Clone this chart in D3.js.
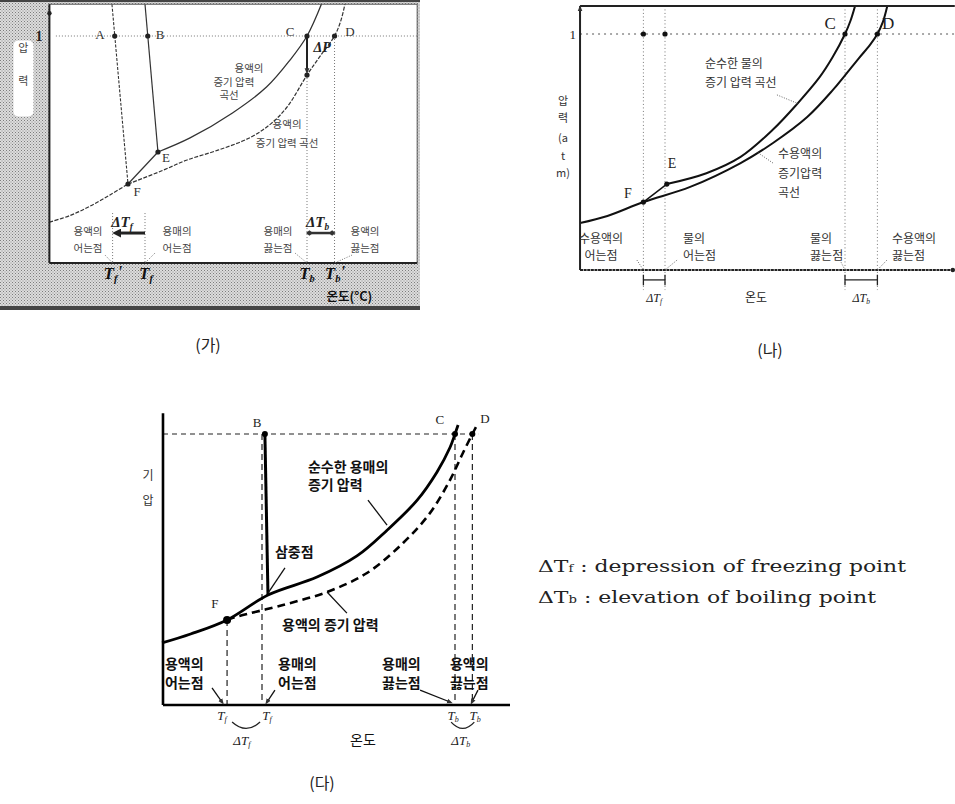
<!DOCTYPE html>
<html>
<head>
<meta charset="utf-8">
<script src="https://cdn.jsdelivr.net/npm/d3@7"></script>
<style>
  body { margin: 0; background: #fff; }
  svg { display: block; }
</style>
</head>
<body>
<div id="app"></div>
<script>
// schematic phase diagrams: temperature (°C) vs pressure (atm)

// ---- (가)
const aTempExtent = [-59, 168];
const aPresExtent = [0, 1.14];
const aSubCurve = [[-59, 0.18], [-46, 0.21], [-34, 0.25], [-21.6, 0.30], [-10.5, 0.348]];
const aFE = [[-10.5, 0.348], [8, 0.489]];
const aSolvent = [[8, 0.489], [27.8, 0.551], [54, 0.661], [75, 0.775], [89.5, 0.894], [100, 1.0], [110, 1.16]];
const aSolution = [[-10.5, 0.348], [10, 0.405], [26, 0.454], [45, 0.497], [65, 0.553], [78, 0.615], [88, 0.69], [100, 0.828], [108, 0.91], [117, 1.0], [121, 1.07], [124, 1.16]];
const aLineA = [[-20.4, 1.14], [-10.5, 0.348]];
const aLineB = [[0, 1.14], [8, 0.489]];
const aDots = [[-18.7, 1], [1.7, 1], [100, 1], [117, 1], [8, 0.489], [-10.5, 0.348], [100, 0.828]];
const aPointNames = [['A', -27.8, 1.009], ['B', 9.3, 1.009], ['C', 89.5, 1.018], ['D', 126.5, 1.018], ['E', 13, 0.463], ['F', -4.9, 0.317]];
const aGuides = [[-20, 0.22, 0], [0, 0.22, 0], [100, 0.828, 0], [117, 1, 0]];
const aTemps = [['f', "'", -19.8], ['f', '', 0.6], ['b', '', 100], ['b', "'", 117.3]];
const aBottomLabels = [[['용액의', '어는점'], -35.2], [['용매의', '어는점'], 19.8], [['용매의', '끓는점'], 82.1], [['용액의', '끓는점'], 135.8]];
const aLeaders = [[[-24.7, 0.035], [-20, 0]], [[6.2, 0.044], [0, 0]], [[92.6, 0.044], [100, 0]], [[127.8, 0.035], [117, 0]]];
const aCurveLabels = [['용액의', 64.2, 0.841], ['증기 압력', 54.9, 0.78], ['곡선', 51.9, 0.722], ['용액의', 87.7, 0.595], ['증기 압력 곡선', 87.7, 0.511]];

// ---- (나)
const bTempExtent = [-47.2, 161];
const bPresExtent = [0, 1.119];
const bSolution = [[-47.2, 0.199], [-32, 0.229], [-12, 0.288], [14, 0.352], [42, 0.453], [60, 0.538], [79, 0.648], [93.3, 0.763], [100, 0.825], [108, 0.9], [114, 0.955], [118, 1.0], [121, 1.05], [123.5, 1.119]];
const bFE = [[-12, 0.288], [1, 0.364]];
const bWater = [[1, 0.364], [23, 0.41], [42, 0.479], [60, 0.595], [73, 0.7], [86, 0.818], [93, 0.9], [100, 1.0], [103, 1.055], [105.6, 1.119]];
const bDots = [[-12, 1], [0, 1], [100, 1], [118, 1], [1, 0.364], [-12, 0.288]];
const bPointNames = [['C', 91.7, 1.047], ['D', 123.9, 1.047], ['E', 3.9, 0.453], ['F', -20.6, 0.326]];
const bGuideTemps = [-12, 0, 100, 118];
const bAxisTitle = ['압', '력', '(a', 't', 'm)'];
const bAxisTitlePres = [0.699, 0.627, 0.542, 0.466, 0.394];
const bCurveLabels = [['순수한 물의', 22.2, 0.856], ['증기 압력 곡선', 22.2, 0.775], ['수용액의', 62.8, 0.475], ['증기압력', 62.8, 0.39], ['곡선', 62.8, 0.309]];
const bCurveLeaders = [[[62.2, 0.742], [73.9, 0.705]], [[60, 0.453], [51.1, 0.5]]];
const bBottomLabels = [[['수용액의', '어는점'], -35.5], [['물의', '어는점'], 10], [['물의', '끓는점'], 80.6], [['수용액의', '끓는점'], 126.1]];
const bLeaders = [[[-15.6, 0.042], [-12, 0]], [[6.7, 0.042], [0, 0]], [[97.2, 0.042], [100, 0]], [[123.3, 0.042], [118, 0]]];
const bDeltas = [['f', -12, 0], ['b', 100, 118]];

// ---- (다)
const cTempExtent = [-51.3, 128.5];
const cPresExtent = [0, 1.077];
const cSolvent = [[-51.8, 0.229], [-37, 0.262], [-18.1, 0.314], [3.1, 0.406], [28.5, 0.472], [49.2, 0.55], [64.8, 0.645], [80.3, 0.755], [90.7, 0.86], [97.4, 0.95], [100, 1.0], [101.6, 1.033]];
const cSolution = [[-18.1, 0.314], [-13, 0.326], [10.9, 0.369], [33.7, 0.417], [54.4, 0.487], [73.1, 0.598], [87, 0.708], [97.4, 0.83], [104.1, 0.93], [109, 1.0], [112, 1.041]];
const cFusion = [[1.5, 1], [3.1, 0.406]];
const cDots = [[1.5, 1], [100, 1], [109, 1], [-18.1, 0.314]];
const cPointNames = [['B', -2.6, 1.044], ['C', 92.2, 1.052], ['D', 115.5, 1.059], ['F', -24.4, 0.376]];
const cGuides = [[-18.1, 0.314], [0, 1], [100, 1], [109, 1]];
const cCurveLabels = [['순수한 용매의', 23.8, 0.86], ['증기 압력', 23.8, 0.793], ['삼중점', 6.7, 0.546], ['용액의 증기 압력', 10.4, 0.277]];
const cCurveLeaders = [[[54.9, 0.756], [64.8, 0.664]], [[11.9, 0.506], [3.1, 0.413]], [[44, 0.339], [33.7, 0.417]]];
const cBottomLabels = [[['용액의', '어는점'], -50.3], [['용매의', '어는점'], 8.3], [['용매의', '끓는점'], 62.2], [['용액의', '끓는점'], 97.4]];
const cLeaders = [[[-25.9, 0.063], [-20.7, 0.011]], [[6.7, 0.055], [2.6, 0.011]], [[81.9, 0.055], [97.4, 0.011]], [[111.9, 0.055], [108.8, 0.011]]];
const cTemps = [['f', -20.7], ['f', 2.6], ['b', 99], ['b', 110.4]];
const cArcs = [['f', -15.5, -1, -10.4], ['b', 98, 110, 103]];

const legendLines = [['f', 'depression of freezing point'], ['b', 'elevation of boiling point']];
const captions = ['(가)', '(나)', '(다)'];

const KR = "'Noto Sans CJK KR', 'Noto Sans', sans-serif";
const SERIF = "'Liberation Serif', 'DejaVu Serif', serif";

const svg = d3.select('#app').append('svg').attr('width', 955).attr('height', 804);
const defs = svg.append('defs');

const pat = defs.append('pattern').attr('id', 'halftone').attr('width', 3).attr('height', 3).attr('patternUnits', 'userSpaceOnUse');
pat.append('rect').attr('width', 3).attr('height', 3).attr('fill', '#dcdcdc');
pat.append('rect').attr('width', 1).attr('height', 1).attr('fill', '#7c7c7c');
pat.append('rect').attr('x', 1.5).attr('y', 1.5).attr('width', 1).attr('height', 1).attr('fill', '#8e8e8e');

function marker(id, path, w, color) {
  defs.append('marker').attr('id', id).attr('viewBox', '0 0 10 10').attr('refX', 5).attr('refY', 5)
    .attr('markerWidth', w).attr('markerHeight', w).attr('orient', 'auto-start-reverse')
    .attr('markerUnits', 'userSpaceOnUse')
    .append('path').attr('d', path).attr('fill', color);
}
marker('arrow', 'M0,0 L10,5 L0,10 Z', 9, '#222');
marker('arrowSmall', 'M0,1 L10,5 L0,9 Z', 6, '#333');
marker('diamond', 'M0,5 L5,1 L10,5 L5,9 Z', 7, '#333');

const lineGen = (x, y, curve) => d3.line().x(d => x(d[0])).y(d => y(d[1])).curve(curve || d3.curveLinear);
const smooth = d3.curveCatmullRom.alpha(0.5);

function textLines(g, lines, x, y, lh, opts) {
  const t = g.append('text').attr('x', x).attr('y', y)
    .attr('font-family', opts.family || KR).attr('font-size', opts.size)
    .attr('font-weight', opts.weight || 'normal').attr('fill', opts.fill || '#222')
    .attr('text-anchor', opts.anchor || 'middle');
  lines.forEach((s, i) => t.append('tspan').attr('x', x).attr('dy', i === 0 ? 0 : lh).text(s));
  return t;
}

function tLabel(g, x, y, s, prime, opts) {
  const t = g.append('text').attr('x', x).attr('y', y)
    .attr('font-family', SERIF).attr('font-size', opts.size).attr('font-style', 'italic')
    .attr('font-weight', opts.weight || 'normal').attr('fill', opts.fill || '#222')
    .attr('text-anchor', 'middle');
  if (opts.delta) t.append('tspan').text('Δ');
  t.append('tspan').text('T');
  t.append('tspan').attr('font-size', '0.62em').attr('dy', '0.28em').text(s);
  if (prime) t.append('tspan').attr('dy', '-0.28em').text(prime);
  return t;
}

// ================= (가) =================
{
  const x = d3.scaleLinear().domain([0, 100]).range([145, 307]);
  const y = d3.scaleLinear().domain([0, 1]).range([263, 36]);
  const [t0, t1] = aTempExtent, [p0, p1] = aPresExtent;
  const g = svg.append('g');
  const line = lineGen(x, y);
  const curve = lineGen(x, y, smooth);

  g.append('rect').attr('width', 420).attr('height', 310).attr('fill', 'url(#halftone)');
  g.append('rect').attr('width', 420).attr('height', 2).attr('fill', '#444');
  g.append('rect').attr('y', 306).attr('width', 420).attr('height', 4).attr('fill', '#444');
  g.append('rect').attr('x', x(t0)).attr('y', y(p1)).attr('width', x(t1) - x(t0)).attr('height', y(p0) - y(p1))
    .attr('fill', '#fff').attr('stroke', '#555').attr('stroke-width', 1);
  // axis title box
  g.append('rect').attr('x', x(t0) - 36).attr('y', y(0.98)).attr('width', 20).attr('height', 76).attr('rx', 5).attr('fill', '#fff');
  textLines(g, ['압'], x(t0) - 26, y(0.93), 0, { size: 11, fill: '#444' });
  textLines(g, ['력'], x(t0) - 26, y(0.785), 0, { size: 11, fill: '#444' });

  defs.append('clipPath').attr('id', 'clipA').append('rect')
    .attr('x', x(t0)).attr('y', y(p1)).attr('width', x(t1) - x(t0)).attr('height', y(p0) - y(p1));
  const plot = g.append('g').attr('clip-path', 'url(#clipA)');

  // 1 atm and guides
  plot.append('path').datum([[t0 + 4, 1], [t1, 1]]).attr('d', line)
    .attr('stroke', '#777').attr('stroke-width', 1).attr('stroke-dasharray', '1,2').attr('fill', 'none');
  aGuides.forEach(([t, a, b]) => plot.append('path').datum([[t, a], [t, b]]).attr('d', line)
    .attr('stroke', '#777').attr('stroke-width', 1).attr('stroke-dasharray', '1,2').attr('fill', 'none'));

  plot.append('path').datum(aSubCurve).attr('d', curve).attr('fill', 'none').attr('stroke', '#333').attr('stroke-width', 1.2).attr('stroke-dasharray', '4,1.5');
  plot.append('path').datum(aFE).attr('d', line).attr('fill', 'none').attr('stroke', '#333').attr('stroke-width', 1.2);
  plot.append('path').datum(aSolvent).attr('d', curve).attr('fill', 'none').attr('stroke', '#333').attr('stroke-width', 1.3);
  plot.append('path').datum(aSolution).attr('d', curve).attr('fill', 'none').attr('stroke', '#333').attr('stroke-width', 1.2).attr('stroke-dasharray', '4,1.5');
  plot.append('path').datum(aLineA).attr('d', line).attr('fill', 'none').attr('stroke', '#333').attr('stroke-width', 1.1).attr('stroke-dasharray', '3,1.5');
  plot.append('path').datum(aLineB).attr('d', line).attr('fill', 'none').attr('stroke', '#333').attr('stroke-width', 1.2);

  // axes
  g.append('path').datum([[t0, p0], [t0, p1]]).attr('d', line).attr('stroke', '#222').attr('stroke-width', 2);
  g.append('path').datum([[t0, p0], [t1, p0]]).attr('d', line).attr('stroke', '#222').attr('stroke-width', 2);
  g.append('circle').attr('cx', x(t0)).attr('cy', y(1.1)).attr('r', 2.2).attr('fill', '#222');
  const ax = g.append('g').attr('transform', `translate(${x(t0)},0)`)
    .call(d3.axisLeft(y).tickValues([1]).tickSize(0).tickPadding(7).tickFormat(d3.format('d')));
  ax.select('.domain').remove();
  ax.selectAll('text').attr('font-family', SERIF).attr('font-size', 14).attr('font-weight', 'bold').attr('fill', '#222');

  // ΔP arrow, ΔTf / ΔTb arrows
  g.append('path').datum([[100, 1], [100, 0.845]]).attr('d', line).attr('stroke', '#222').attr('stroke-width', 2).attr('marker-end', 'url(#arrowSmall)');
  g.append('path').datum([[0, 0.132], [-17.5, 0.132]]).attr('d', line).attr('stroke', '#222').attr('stroke-width', 3).attr('marker-end', 'url(#arrow)');
  g.append('path').datum([[101.5, 0.132], [115.5, 0.132]]).attr('d', line).attr('stroke', '#333').attr('stroke-width', 2.5)
    .attr('marker-end', 'url(#diamond)').attr('marker-start', 'url(#diamond)');

  g.selectAll('.dotA').data(aDots).enter().append('circle')
    .attr('cx', d => x(d[0])).attr('cy', d => y(d[1])).attr('r', 2.6).attr('fill', '#222');

  aPointNames.forEach(([n, t, p]) => g.append('text').attr('x', x(t)).attr('y', y(p)).attr('dy', '0.35em')
    .attr('text-anchor', 'middle').attr('font-family', SERIF).attr('font-size', 13).attr('fill', '#333').text(n));
  g.append('text').attr('x', x(109.3)).attr('y', y(0.952)).attr('dy', '0.35em').attr('text-anchor', 'middle')
    .attr('font-family', SERIF).attr('font-size', 14).attr('font-weight', 'bold').attr('font-style', 'italic').attr('fill', '#222').text('ΔP');

  aCurveLabels.forEach(([s, t, p]) => textLines(g, [s], x(t), y(p), 0, { size: 10.5, fill: '#444' }).attr('dy', '0.35em'));
  aBottomLabels.forEach(([ls, t]) => textLines(g, ls, x(t), y(0.145), 17, { size: 10.5, fill: '#444' }).attr('dominant-baseline', 'central'));
  aLeaders.forEach(d => g.append('path').datum(d).attr('d', line).attr('stroke', '#777').attr('stroke-width', 1).attr('stroke-dasharray', '1,1.5').attr('fill', 'none'));

  tLabel(g, x(-14.2), y(0.181) + 5, 'f', '', { size: 15, weight: 'bold', delta: true });
  tLabel(g, x(106.5), y(0.181) + 5, 'b', '', { size: 15, weight: 'bold', delta: true });
  aTemps.forEach(([s, pr, t]) => tLabel(g, x(t), y(-0.07), s, pr, { size: 17, weight: 'bold', fill: '#111' }));
  g.append('text').attr('x', x(112)).attr('y', y(-0.166)).attr('font-family', KR).attr('font-size', 12.5)
    .attr('font-weight', 'bold').attr('fill', '#111').text('온도(°C)');
}

// ================= (나) =================
{
  const x = d3.scaleLinear().domain([0, 100]).range([665, 845]);
  const y = d3.scaleLinear().domain([0, 1]).range([270, 34]);
  const [t0, t1] = bTempExtent, [p0, p1] = bPresExtent;
  const g = svg.append('g');
  const line = lineGen(x, y);
  const curve = lineGen(x, y, smooth);

  defs.append('clipPath').attr('id', 'clipB').append('rect')
    .attr('x', x(t0)).attr('y', y(p1)).attr('width', x(t1) - x(t0)).attr('height', y(p0) - y(p1));

  g.append('path').datum([[t0, 1], [t1, 1]]).attr('d', line).attr('stroke', '#555').attr('stroke-width', 1).attr('stroke-dasharray', '2,4').attr('fill', 'none');
  bGuideTemps.forEach(t => g.append('path').datum([[t, p1], [t, -0.085]]).attr('d', line)
    .attr('stroke', '#777').attr('stroke-width', 1).attr('stroke-dasharray', '1,2.5').attr('fill', 'none'));

  const plot = g.append('g').attr('clip-path', 'url(#clipB)');
  plot.append('path').datum(bSolution).attr('d', curve).attr('fill', 'none').attr('stroke', '#111').attr('stroke-width', 2);
  plot.append('path').datum(bWater).attr('d', curve).attr('fill', 'none').attr('stroke', '#111').attr('stroke-width', 2);
  plot.append('path').datum(bFE).attr('d', line).attr('fill', 'none').attr('stroke', '#111').attr('stroke-width', 1.5);

  g.append('path').datum([[t0, p0], [t0, p1]]).attr('d', line).attr('stroke', '#222').attr('stroke-width', 2);
  g.append('path').datum([[t0, p1], [t1, p1]]).attr('d', line).attr('stroke', '#222').attr('stroke-width', 2);
  g.append('path').datum([[t0, p0], [t1, p0]]).attr('d', line).attr('stroke', '#222').attr('stroke-width', 2).attr('stroke-dasharray', '3,0.6');
  g.append('path').datum([[t0, p1 - 0.05], [t0, p1 - 0.01]]).attr('d', line).attr('stroke', '#222').attr('marker-end', 'url(#arrowSmall)');
  g.append('circle').attr('cx', x(t1) - 2).attr('cy', y(p0)).attr('r', 2.2).attr('fill', '#222');

  const ax = g.append('g').attr('transform', `translate(${x(t0)},0)`)
    .call(d3.axisLeft(y).tickValues([1]).tickSize(0).tickPadding(4).tickFormat(d3.format('d')));
  ax.select('.domain').remove();
  ax.selectAll('text').attr('font-family', SERIF).attr('font-size', 13).attr('fill', '#222');

  g.selectAll('.dotB').data(bDots).enter().append('circle')
    .attr('cx', d => x(d[0])).attr('cy', d => y(d[1])).attr('r', 2.6).attr('fill', '#111');
  bPointNames.forEach(([n, t, p]) => g.append('text').attr('x', x(t)).attr('y', y(p)).attr('dy', '0.35em')
    .attr('text-anchor', 'middle').attr('font-family', SERIF).attr('font-size', n === 'C' || n === 'D' ? 17 : 14).attr('fill', '#222').text(n));

  bAxisTitle.forEach((s, i) => textLines(g, [s], x(t0) - 17, y(bAxisTitlePres[i]), 0, { size: 11, fill: '#333' }).attr('dy', '0.35em'));
  bCurveLabels.forEach(([s, t, p]) => textLines(g, [s], x(t), y(p), 0, { size: 12, fill: '#333', anchor: 'start' }).attr('dy', '0.35em'));
  bCurveLeaders.forEach(d => g.append('path').datum(d).attr('d', line).attr('stroke', '#666').attr('stroke-width', 1).attr('stroke-dasharray', '1,1.5').attr('fill', 'none'));
  bBottomLabels.forEach(([ls, t], i) => textLines(g, ls, x(t), y(0.14), 17, { size: 12, fill: '#333', anchor: i === 0 ? 'middle' : 'start' }).attr('dominant-baseline', 'central'));
  bLeaders.forEach(d => g.append('path').datum(d).attr('d', line).attr('stroke', '#666').attr('stroke-width', 1).attr('stroke-dasharray', '1,1.5').attr('fill', 'none'));

  bDeltas.forEach(([s, a, b]) => {
    g.append('path').datum([[a, -0.042], [b, -0.042]]).attr('d', line).attr('stroke', '#222').attr('stroke-width', 1.3);
    [a, b].forEach(t => g.append('path').datum([[t, -0.02], [t, -0.065]]).attr('d', line).attr('stroke', '#222').attr('stroke-width', 1.3));
    tLabel(g, x((a + b) / 2), y(-0.136), s, '', { size: 12, delta: true });
  });
  g.append('text').attr('x', x(50.6)).attr('y', y(-0.136)).attr('text-anchor', 'middle')
    .attr('font-family', KR).attr('font-size', 12).attr('fill', '#222').text('온도');
}

// ================= (다) =================
{
  const x = d3.scaleLinear().domain([0, 100]).range([262, 455]);
  const y = d3.scaleLinear().domain([0, 1]).range([705, 434]);
  const [t0, t1] = cTempExtent, [p0, p1] = cPresExtent;
  const g = svg.append('g');
  const line = lineGen(x, y);
  const curve = lineGen(x, y, smooth);

  g.append('path').datum([[t0, 1], [112, 1]]).attr('d', line).attr('stroke', '#222').attr('stroke-width', 1.2).attr('stroke-dasharray', '5,4').attr('fill', 'none');
  cGuides.forEach(([t, p]) => g.append('path').datum([[t, p], [t, 0]]).attr('d', line)
    .attr('stroke', '#222').attr('stroke-width', 1.2).attr('stroke-dasharray', '6,4').attr('fill', 'none'));

  g.append('path').datum(cSolvent).attr('d', curve).attr('fill', 'none').attr('stroke', '#000').attr('stroke-width', 2.8);
  g.append('path').datum(cSolution).attr('d', curve).attr('fill', 'none').attr('stroke', '#000').attr('stroke-width', 2.6).attr('stroke-dasharray', '8,5');
  g.append('path').datum(cFusion).attr('d', line).attr('fill', 'none').attr('stroke', '#000').attr('stroke-width', 3);

  g.append('path').datum([[t0, p0], [t0, p1]]).attr('d', line).attr('stroke', '#000').attr('stroke-width', 2.6);
  g.append('path').datum([[t0, p0], [t1, p0]]).attr('d', line).attr('stroke', '#000').attr('stroke-width', 2.6);

  g.selectAll('.dotC').data(cDots).enter().append('circle')
    .attr('cx', d => x(d[0])).attr('cy', d => y(d[1])).attr('r', (d, i) => i === 3 ? 4 : 3).attr('fill', '#000');
  cPointNames.forEach(([n, t, p]) => g.append('text').attr('x', x(t)).attr('y', y(p)).attr('dy', '0.35em')
    .attr('text-anchor', 'middle').attr('font-family', SERIF).attr('font-size', 13).attr('fill', '#222').text(n));

  textLines(g, ['기'], x(t0) - 15, y(0.83), 0, { size: 12, fill: '#333' }).attr('dy', '0.35em');
  textLines(g, ['압'], x(t0) - 15, y(0.738), 0, { size: 12, fill: '#333' }).attr('dy', '0.35em');

  cCurveLabels.forEach(([s, t, p]) => textLines(g, [s], x(t), y(p), 0, { size: 14, weight: 'bold', fill: '#111', anchor: 'start' }).attr('dy', '0.35em'));
  cCurveLeaders.forEach(d => g.append('path').datum(d).attr('d', line).attr('stroke', '#111').attr('stroke-width', 1.3).attr('fill', 'none'));
  cBottomLabels.forEach(([ls, t]) => textLines(g, ls, x(t), y(0.155), 19, { size: 14, weight: 'bold', fill: '#111', anchor: 'start' }).attr('dominant-baseline', 'central'));
  cLeaders.forEach(d => g.append('path').datum(d).attr('d', line).attr('stroke', '#111').attr('stroke-width', 1.3).attr('fill', 'none').attr('marker-end', 'url(#arrowSmall)'));

  cTemps.forEach(([s, t]) => tLabel(g, x(t), y(-0.055), s, '', { size: 13 }));
  cArcs.forEach(([s, a, b, mid]) => {
    g.append('path').attr('d', `M${x(a)},${y(-0.063)} Q${x((a + b) / 2)},${y(-0.11)} ${x(b)},${y(-0.063)}`)
      .attr('stroke', '#222').attr('stroke-width', 1.3).attr('fill', 'none');
    tLabel(g, x(mid), y(-0.148), s, '', { size: 13, delta: true });
  });
  g.append('text').attr('x', x(52.3)).attr('y', y(-0.148)).attr('text-anchor', 'middle')
    .attr('font-family', KR).attr('font-size', 14).attr('fill', '#111').text('온도');
}

// legend
{
  const g = svg.append('g').attr('font-family', "'DejaVu Serif', serif").attr('font-size', 17).attr('fill', '#222');
  const widths = [368, 338];
  legendLines.forEach(([s, desc], i) => {
    const t = g.append('text').attr('x', 538).attr('y', 572 + i * 31)
      .attr('textLength', widths[i]).attr('lengthAdjust', 'spacingAndGlyphs');
    t.append('tspan').text('ΔT');
    t.append('tspan').attr('font-size', '0.6em').text(s);
    t.append('tspan').text(' : ' + desc);
  });
}

// captions
[[208, 351], [770, 356], [322, 789]].forEach((p, i) =>
  svg.append('text').attr('x', p[0]).attr('y', p[1]).attr('text-anchor', 'middle')
    .attr('font-family', KR).attr('font-size', 16).attr('fill', '#222').text(captions[i]));
</script>
</body>
</html>
